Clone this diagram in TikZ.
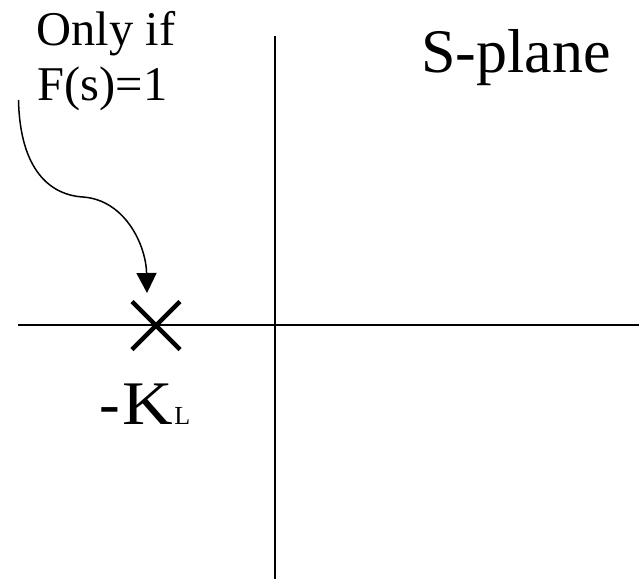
\documentclass[tikz,border=0pt]{standalone}
\usepackage{fontspec}
\setmainfont{Liberation Serif}
\usetikzlibrary{arrows.meta,calc}
\begin{document}
\begin{tikzpicture}[x=1pt,y=-1pt,
  axisline/.style={line width=2pt},
  poleline/.style={line width=4.5pt},
  lbl/.style={inner sep=0pt,anchor=base west},
  pointer/.style={line width=1.5pt,-{Triangle[length=20pt,width=20pt]}}]
\useasboundingbox (0,0) rectangle (639,581);
% axes
\coordinate (hl) at (18,325);
\coordinate (hr) at (639,325);
\coordinate (vt) at (275,36);
\coordinate (vb) at (275,579);
\draw[axisline] (hl) -- (hr);
\draw[axisline] (vt) -- (vb);
% pole
\coordinate (pole) at (156,325.5);
\draw[poleline] ($(pole)+(-24,-24)$) -- ($(pole)+(24,24)$);
\draw[poleline] ($(pole)+(-24,24)$) -- ($(pole)+(24,-24)$);
% labels
\node[lbl,font=\fontsize{48.5}{55}\selectfont] (only) at (36.5,45) {Only if};
\node[lbl,font=\fontsize{48.5}{55}\selectfont] (fs) at (37.5,100) {F(s)=1};
\node[lbl,font=\fontsize{62}{70}\selectfont] (splane) at (421,72) {S-plane};
\node[lbl,font=\fontsize{62}{70}\selectfont] (kl) at (99.5,424) {-\kern2pt\scalebox{1.13}[1]{K}\kern1.5pt{\fontsize{26}{30}\selectfont L}};
% pointer
\coordinate (ps) at (18.5,100);
\coordinate (pm) at (83,197);
\coordinate (pe) at (147,293);
\draw[pointer] (ps) .. controls (20,170) and (50,195) .. (pm)
  .. controls (125,200) and (146,245) .. (pe);
\end{tikzpicture}
\end{document}
